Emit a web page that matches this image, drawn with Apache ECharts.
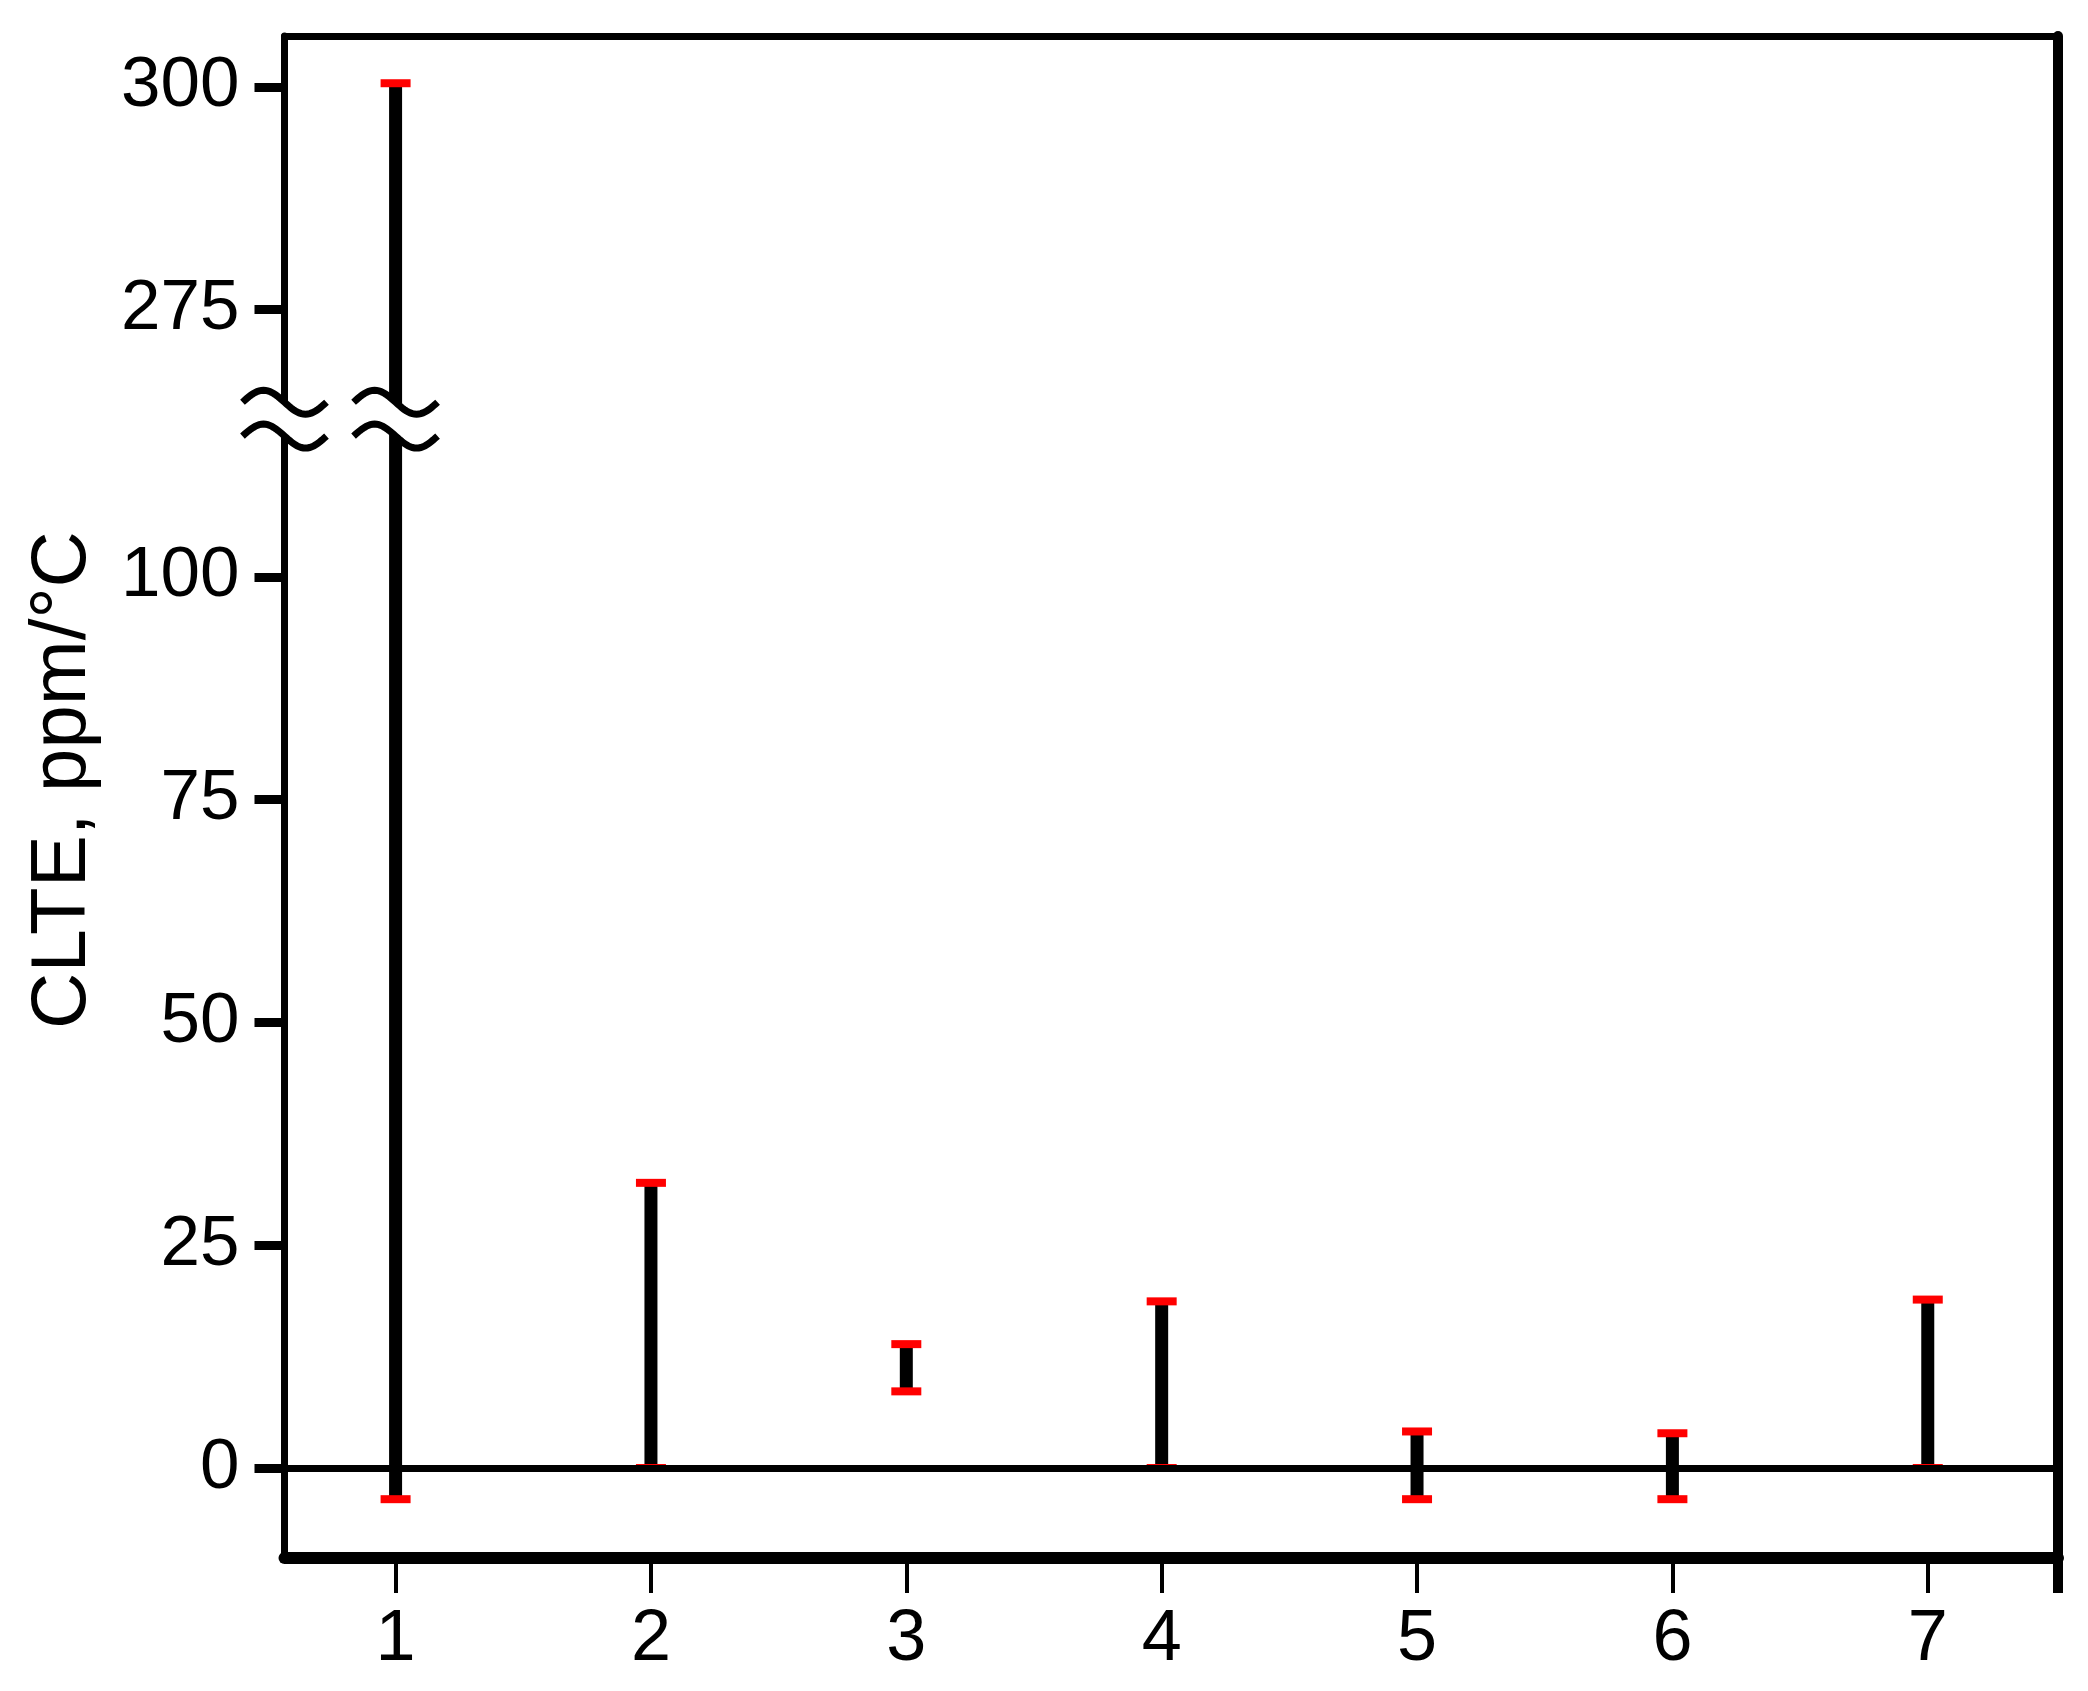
<!DOCTYPE html>
<html><head><meta charset="utf-8">
<script src="https://cdn.jsdelivr.net/npm/echarts@6/dist/echarts.min.js"></script>
<style>html,body{margin:0;padding:0;background:#fff}#c{width:2088px;height:1691px}</style>
</head><body><div id="c"></div>
<script>
const categories = [1, 2, 3, 4, 5, 6, 7];
const lowValues = [-3.5, 0, 8.6, 0, -3.5, -3.5, 0];
const highValues = [300.4, 32.0, 13.9, 18.7, 4.1, 3.9, 18.9];
const yTickValues = [0, 25, 50, 75, 100, 275, 300];
const yAxisTitle = 'CLTE, ppm/°C';

const BREAK_OFFSET = 145;   // values above the break are shifted down by this
const BREAK_AT = 117.7;     // where the broken axis is cut
const X_MIN = 0.565, X_MAX = 7.51, Y_MIN = -10.1, Y_MAX = 160.7;
const FONT = '"Liberation Sans", Arial, sans-serif';

function toDisp(v) { return v > BREAK_AT ? v - BREAK_OFFSET : v; }
function fromDisp(d) { return d > BREAK_AT ? d + BREAK_OFFSET : d; }

const barData = categories.map((c, i) => [c, toDisp(lowValues[i]), toDisp(highValues[i])]);
const yTickDisp = yTickValues.map(toDisp);

const chart = echarts.init(document.getElementById('c'), null, {renderer: 'canvas'});
chart.setOption({
  animation: false,
  backgroundColor: '#fff',
  grid: {left: 284.5, right: 30, top: 36, bottom: 133, outerBoundsMode: 'none'},
  xAxis: [{
    type: 'value', min: X_MIN, max: X_MAX, position: 'bottom',
    axisLine: {show: true, onZero: false, lineStyle: {color: '#000', width: 12}},
    axisTick: {show: true, customValues: categories, length: 35, lineStyle: {color: '#000', width: 4}},
    axisLabel: {show: true, customValues: categories, margin: 46, fontSize: 72, color: '#000', fontFamily: FONT,
      formatter: v => String(Math.round(v))},
    splitLine: {show: false}
  }, {
    type: 'value', min: X_MIN, max: X_MAX, position: 'top',
    axisLine: {show: true, onZero: false, lineStyle: {color: '#000', width: 7}},
    axisTick: {show: false}, axisLabel: {show: false}, splitLine: {show: false}
  }],
  yAxis: [{
    type: 'value', min: Y_MIN, max: Y_MAX, position: 'left',
    name: yAxisTitle, nameLocation: 'middle', nameRotate: 90, nameGap: 182,
    nameTextStyle: {fontSize: 78, color: '#000', fontFamily: FONT, padding: [0, 0, 0, 34]},
    axisLine: {show: true, onZero: false, lineStyle: {color: '#000', width: 7}},
    axisTick: {show: true, customValues: yTickDisp, length: 30, lineStyle: {color: '#000', width: 9}},
    axisLabel: {show: true, customValues: yTickDisp, margin: 45, fontSize: 71, color: '#000', fontFamily: FONT,
      formatter: v => String(Math.round(fromDisp(v)))},
    splitLine: {show: false}
  }, {
    type: 'value', min: Y_MIN, max: Y_MAX, position: 'right',
    axisLine: {show: true, onZero: false, lineStyle: {color: '#000', width: 10}},
    axisTick: {show: false}, axisLabel: {show: false}, splitLine: {show: false}
  }],
  series: [{
    type: 'line', data: [], z: 1, silent: true,
    markLine: {silent: true, symbol: 'none', label: {show: false},
      lineStyle: {color: '#000', width: 7, type: 'solid'}, data: [{yAxis: 0}]}
  }, {
    type: 'custom', z: 3,
    encode: {x: 0, y: [1, 2]},
    data: barData,
    renderItem: function (params, api) {
      const lo = api.coord([api.value(0), api.value(1)]);
      const hi = api.coord([api.value(0), api.value(2)]);
      return {type: 'group', children: [
        {type: 'line', shape: {x1: lo[0], y1: lo[1], x2: hi[0], y2: hi[1]}, style: {stroke: '#000', lineWidth: 13}},
        {type: 'rect', shape: {x: lo[0] - 15, y: lo[1] - 4, width: 30, height: 8}, style: {fill: '#ff0000'}},
        {type: 'rect', shape: {x: hi[0] - 15, y: hi[1] - 4, width: 30, height: 8}, style: {fill: '#ff0000'}}
      ]};
    }
  }]
});

// Axis-break marks, positioned through the chart's own scales
function wave(cx, mid, w, a) {
  const pts = [];
  for (let i = 0; i <= 40; i++) {
    const t = i / 40;
    pts.push([cx - w / 2 + w * t, mid - a * Math.sin(2 * Math.PI * t)]);
  }
  return pts;
}
const axisX = chart.convertToPixel({xAxisIndex: 0}, X_MIN);
const rightX = chart.convertToPixel({xAxisIndex: 0}, X_MAX);
const bottomY = chart.convertToPixel({yAxisIndex: 0}, Y_MIN);
const barX = chart.convertToPixel({xAxisIndex: 0}, categories[0]);
const yUp = chart.convertToPixel({yAxisIndex: 0}, BREAK_AT + 1.9);
const yDn = chart.convertToPixel({yAxisIndex: 0}, BREAK_AT - 1.9);
const W = 84, A = 12;
const graphics = [];
[axisX, barX].forEach(cx => {
  const up = wave(cx, yUp, W, A), dn = wave(cx, yDn, W, A);
  graphics.push({type: 'polygon', z: 100, shape: {points: up.concat(dn.slice().reverse())}, style: {fill: '#fff'}});
  graphics.push({type: 'polyline', z: 101, shape: {points: up}, style: {stroke: '#000', lineWidth: 7, fill: null}});
  graphics.push({type: 'polyline', z: 101, shape: {points: dn}, style: {stroke: '#000', lineWidth: 7, fill: null}});
});
graphics.push({type: 'line', z: 101, shape: {x1: rightX, y1: bottomY, x2: rightX, y2: bottomY + 35},
  style: {stroke: '#000', lineWidth: 10}});
chart.setOption({graphic: graphics});
</script>
</body></html>
